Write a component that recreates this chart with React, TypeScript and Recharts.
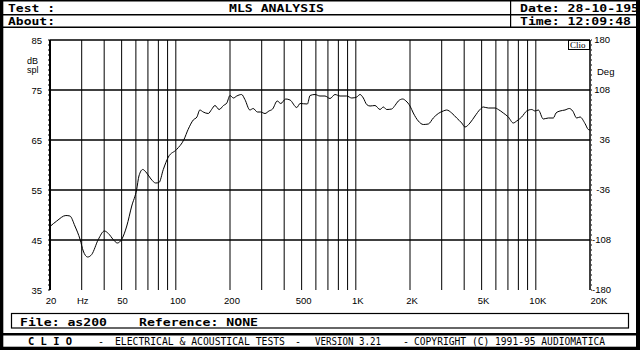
import { LineChart, Line, XAxis, YAxis, ReferenceLine } from "recharts";

const freqHz = [
  20, 21.8, 24.5, 25.8, 27.5, 29.4, 30.6, 32.4, 34.1, 37.1, 40.1, 42.2, 44.9, 47.3, 50,
  53.4, 56.9, 60.6, 62.4, 65.5, 68.9, 72.8, 77.3, 80.7, 85.2, 90.9, 101, 111, 117, 125,
  131, 136, 142, 151.5, 158, 165, 174, 184, 192, 200, 209, 218, 232, 242, 258, 269, 284,
  296, 313, 329, 345, 366, 383, 408, 431, 470, 490, 538, 557, 593, 632, 674, 719, 766,
  817, 890, 949, 1012, 1055, 1101, 1149, 1199, 1278, 1363, 1422, 1484, 1582, 1650, 1722,
  1822, 1900, 2000, 2086, 2224, 2372, 2528, 2694, 2872, 3062, 3198, 3410, 3634, 3876,
  4042, 4308, 4594, 4896, 5108, 5446, 5934, 6190, 6598, 7034, 7498, 7830, 8348, 8898,
  9490, 9898, 10324, 11006, 11734, 12510, 12950, 13626, 14526, 15348, 16032, 16872,
  17600, 18760, 19572, 20000,
];
const splDb = [
  47.7, 48.8, 49.9, 49.8, 47.8, 45.1, 42.8, 41.6, 42.1, 45.1, 46.8, 46.3, 45.1, 44.4, 45.1,
  47.8, 51.8, 55.1, 57.8, 59.1, 58.4, 57.2, 56.4, 56.5, 59.1, 61.6, 63.1, 65.1, 67.1, 69.0,
  69.6, 71.0, 70.6, 70.3, 71.1, 71.9, 71.1, 71.9, 72.4, 73.9, 73.4, 73.8, 74.1, 73.1, 71.0,
  71.3, 70.6, 70.6, 70.3, 70.8, 71.2, 72.8, 72.3, 73.2, 73.0, 71.5, 72.3, 72.2, 73.9, 74.1,
  73.8, 73.8, 73.3, 74.1, 73.8, 73.8, 73.4, 73.6, 74.1, 73.4, 72.1, 71.8, 71.9, 71.1, 71.6,
  71.1, 71.2, 71.9, 72.8, 73.2, 72.8, 71.8, 70.4, 68.8, 68.1, 68.2, 69.4, 70.3, 70.8, 71.0,
  70.4, 69.4, 68.4, 67.6, 68.4, 69.8, 71.1, 71.6, 71.4, 71.4, 71.1, 70.4, 69.6, 68.4, 68.8,
  69.6, 70.8, 71.1, 70.8, 71.0, 69.2, 69.4, 69.4, 70.4, 70.8, 71.0, 71.3, 70.8, 69.4, 69.6,
  68.3, 67.1, 67.0,
];

const gridFreqs = [
  20, 30, 40, 50, 60, 70, 80, 90, 100, 200, 300, 400, 500, 600, 700, 800, 900, 1000, 2000,
  3000, 4000, 5000, 6000, 7000, 8000, 9000, 10000, 20000,
];
const freqLabels: Record<number, string> = {
  20: "20", 30: "Hz", 50: "50", 100: "100", 200: "200", 500: "500",
  1000: "1K", 2000: "2K", 5000: "5K", 10000: "10K", 20000: "20K",
};
const dbTicks = [35, 45, 55, 65, 75, 85];
const degLabels = ["-180", "-108", "-36", "36", "108", "180"];

const minorTicks = Array.from({ length: 51 }, (_, i) => 35 + i);
const data = freqHz.map((f, i) => ({ f, db: splDb[i] }));

const SANS = "'Liberation Sans', Arial, sans-serif";
const MONO = "'DejaVu Sans Mono', 'Liberation Mono', monospace";
const TICK_FS = 9.5;

function LeftTick(props: any) {
  const { x, y, payload } = props;
  if (!dbTicks.includes(payload.value)) return <g />;
  return (
    <text x={x - 6} y={y + 3.5} textAnchor="end" fontSize={TICK_FS} fontFamily={SANS} fill="#000">
      {payload.value}
    </text>
  );
}

function RightTick(props: any) {
  const { y, payload } = props;
  const idx = dbTicks.indexOf(payload.value);
  if (idx < 0) return <g />;
  const label = degLabels[idx];
  const long = label.length > 3;
  // labels sit just right of the 20K gridline
  return (
    <text
      x={long ? 592 : 610}
      y={y + 3}
      textAnchor={long ? "start" : "end"}
      fontSize={TICK_FS}
      fontFamily={SANS}
      fill="#000"
    >
      {label}
    </text>
  );
}

function FreqTick(props: any) {
  const { x, y, payload } = props;
  const label = freqLabels[payload.value];
  if (!label) return <g />;
  const dx = payload.value === 20000 ? 9 : payload.value >= 100 ? 2 : 1;
  return (
    <text x={x + dx} y={y + 13.5} textAnchor="middle" fontSize={TICK_FS} fontFamily={SANS} fill="#000">
      {label}
    </text>
  );
}

function Frame() {
  const t = { fontFamily: MONO, fontWeight: 700, fontSize: 10, fill: "#000" } as const;
  const f = { fontFamily: MONO, fontSize: 10, fill: "#000" } as const;
  return (
    <svg width={640} height={350} style={{ position: "absolute", left: 0, top: 0 }}>
      <rect x={0} y={0} width={640} height={350} fill="#fff" />
      <text x={8} y={12} textLength={47} lengthAdjust="spacingAndGlyphs" {...t}>Test :</text>
      <text x={8} y={24.5} textLength={47} lengthAdjust="spacingAndGlyphs" {...t}>About:</text>
      <text x={229} y={12} textLength={95} lengthAdjust="spacingAndGlyphs" {...t}>MLS ANALYSIS</text>
      <text x={520} y={12} textLength={119} lengthAdjust="spacingAndGlyphs" {...t}>Date: 28-10-195</text>
      <text x={520} y={24.5} textLength={111} lengthAdjust="spacingAndGlyphs" {...t}>Time: 12:09:48</text>
      <rect x={0} y={14} width={640} height={1.5} fill="#000" />
      <rect x={0} y={26.5} width={640} height={1.5} fill="#000" />
      <rect x={510} y={0} width={1.2} height={28} fill="#000" />

      <text x={27} y={64} fontSize={9} fontFamily={SANS}>dB</text>
      <text x={27} y={72.5} fontSize={9} fontFamily={SANS}>spl</text>
      <text x={597} y={75} fontSize={TICK_FS} fontFamily={SANS}>Deg</text>

      <rect x={11.5} y={313.5} width={617} height={14.5} fill="none" stroke="#000" strokeWidth={1.2} />
      <text x={20} y={326} textLength={87} lengthAdjust="spacingAndGlyphs" {...t}>File: as200</text>
      <text x={139} y={326} textLength={119} lengthAdjust="spacingAndGlyphs" {...t}>Reference: NONE</text>

      <rect x={0} y={333} width={640} height={2.5} fill="#000" />
      <text x={28} y={345} textLength={44} lengthAdjust="spacingAndGlyphs" {...t}>C L I O</text>
      <text x={98} y={345} {...f}>-</text>
      <text x={115} y={345} textLength={170} lengthAdjust="spacingAndGlyphs" {...f}>ELECTRICAL &amp; ACOUSTICAL TESTS</text>
      <text x={295} y={345} {...f}>-</text>
      <text x={315} y={345} textLength={66} lengthAdjust="spacingAndGlyphs" {...f}>VERSION 3.21</text>
      <text x={403} y={345} {...f}>-</text>
      <text x={414} y={345} textLength={191} lengthAdjust="spacingAndGlyphs" {...f}>COPYRIGHT (C) 1991-95 AUDIOMATICA</text>

      <rect x={0} y={0} width={640} height={1.5} fill="#000" />
      <rect x={0} y={0} width={3.3} height={350} fill="#000" />
      <rect x={636} y={0} width={4} height={350} fill="#000" />
      <rect x={0} y={346.7} width={640} height={3.3} fill="#000" />
    </svg>
  );
}

export default function App() {
  return (
    <div style={{ position: "absolute", left: 0, top: 0, width: 640, height: 350 }}>
      <Frame />
      <div style={{ position: "absolute", left: 0, top: 0 }}>
        <LineChart
          width={640}
          height={350}
          data={data}
          margin={{ top: 40, right: 20, bottom: 40, left: 20 }}
        >
          <XAxis
            dataKey="f"
            type="number"
            scale="log"
            domain={[20, 20000]}
            ticks={gridFreqs}
            interval={0}
            allowDataOverflow
            axisLine={false}
            tickLine={false}
            tickSize={0}
            tickMargin={0}
            height={20}
            tick={<FreqTick />}
          />
          <YAxis
            yAxisId="left"
            type="number"
            domain={[35, 85]}
            ticks={minorTicks}
            interval={0}
            width={30}
            axisLine={{ stroke: "#000", strokeWidth: 2 }}
            tickLine={{ stroke: "#000" }}
            tickSize={2}
            tickMargin={0}
            tick={<LeftTick />}
          />
          <YAxis
            yAxisId="right"
            orientation="right"
            type="number"
            domain={[35, 85]}
            ticks={minorTicks}
            interval={0}
            width={30}
            axisLine={{ stroke: "#000", strokeWidth: 1 }}
            tickLine={{ stroke: "#000", strokeDasharray: "1 1" }}
            tickSize={2}
            tickMargin={0}
            tick={<RightTick />}
          />
          {gridFreqs.map((g) => (
            <ReferenceLine key={`v${g}`} x={g} yAxisId="left" stroke="#000" strokeWidth={1} />
          ))}
          {dbTicks.slice(1).map((d) => (
            <ReferenceLine key={`h${d}`} y={d} yAxisId="left" stroke="#000" strokeWidth={1.6} />
          ))}
          <Line
            yAxisId="right"
            dataKey="db"
            stroke="none"
            dot={false}
            legendType="none"
            isAnimationActive={false}
          />
          <Line
            yAxisId="left"
            dataKey="db"
            type="monotone"
            stroke="#000"
            strokeWidth={1}
            dot={false}
            isAnimationActive={false}
          />
        </LineChart>
      </div>
      <svg width={640} height={350} style={{ position: "absolute", left: 0, top: 0, pointerEvents: "none" }}>
        <rect x={568.5} y={40.5} width={21} height={9} fill="#fff" stroke="#000" strokeWidth={1} />
        <text x={570} y={48} fontSize={9} fontFamily="'Liberation Serif', serif">Clio</text>
      </svg>
    </div>
  );
}
